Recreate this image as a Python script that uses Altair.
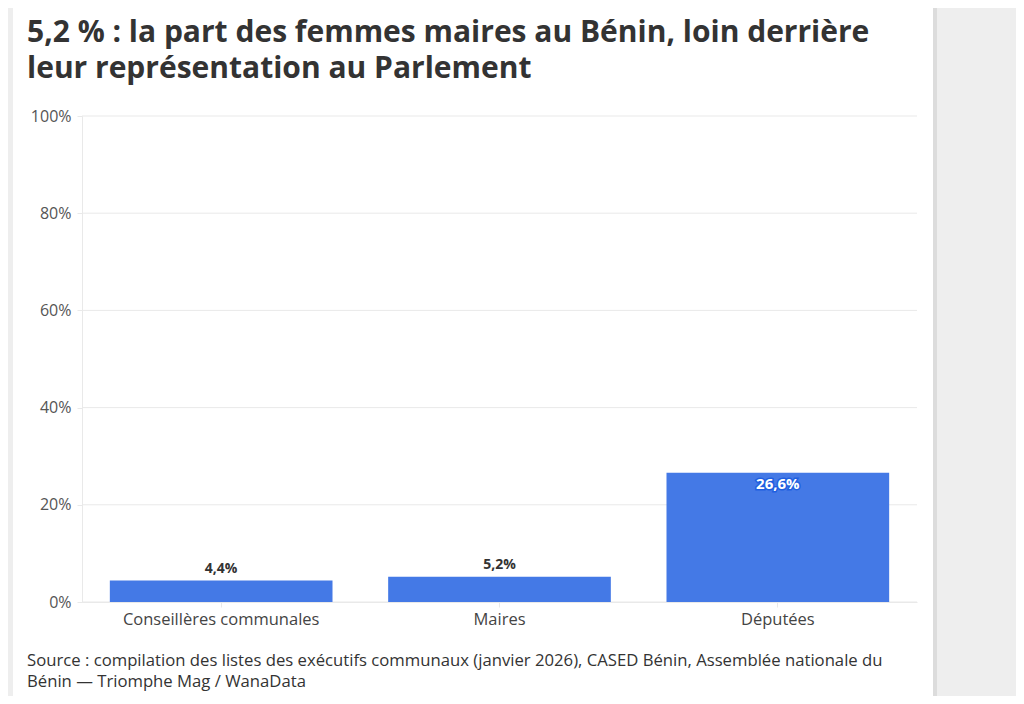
import altair as alt
import pandas as pd

categories = ["Conseillères communales", "Maires", "Députées"]
values = [4.4, 5.2, 26.6]
y_ticks = [0, 20, 40, 60, 80, 100]
title_lines = ["5,2 % : la part des femmes maires au Bénin, loin derrière",
               "leur représentation au Parlement"]
source_lines = ["Source : compilation des listes des exécutifs communaux (janvier 2026), CASED Bénin, Assemblée nationale du",
                "Bénin — Triomphe Mag / WanaData"]

FONT = "Open Sans"
BLUE = "#4479e6"
GRID = "#e9e9e9"

df = pd.DataFrame({"cat": categories, "value": values})
grid_df = pd.DataFrame({"value": y_ticks})
one = pd.DataFrame({"k": [0]})

yscale = alt.Scale(domain=[0, 100])
xscale = alt.Scale(domain=categories, paddingInner=0.2, paddingOuter=0.1)
yaxis = alt.Axis(title=None, values=y_ticks, labelExpr="datum.value + '%'",
                 labelFont=FONT, labelFontSize=16, labelColor="#555",
                 tickColor=GRID, tickSize=5, domainColor=GRID, grid=False,
                 labelPadding=6, zindex=1)

card = alt.Chart(one).mark_rect(color="white").encode(
    x=alt.value(-69), x2=alt.value(851), y=alt.value(-120), y2=alt.value(590)
)
shadow = alt.Chart(one).mark_rect(color="#dcdcdc").encode(
    x=alt.value(851), x2=alt.value(855), y=alt.value(-120), y2=alt.value(590)
)

grid = alt.Chart(grid_df).mark_rule(color=GRID, strokeWidth=1).encode(
    y=alt.Y("value:Q", scale=yscale, axis=yaxis)
)

bars = alt.Chart(df).mark_bar(color=BLUE).encode(
    x=alt.X("cat:N", scale=xscale, sort=categories,
            axis=alt.Axis(title=None, labelAngle=0, labelFont=FONT, labelFontSize=16.5,
                          labelColor="#444", tickColor=GRID, tickSize=5, labelLimit=0,
                          domainColor=GRID, labelPadding=4, zindex=1)),
    y=alt.Y("value:Q", scale=yscale, axis=yaxis),
)

lbl_base = alt.Chart(df).transform_calculate(
    lbl="replace(format(datum.value, '.1f'), '.', ',') + '%'"
).encode(
    x=alt.X("cat:N", scale=xscale, sort=categories),
    y=alt.Y("value:Q", scale=yscale, axis=yaxis),
    text="lbl:N",
)

lbl_above = lbl_base.transform_filter("datum.value < 15").mark_text(
    font=FONT, fontSize=14, fontWeight="bold", color="#333", baseline="bottom", dy=-5
)
lbl_in_halo = lbl_base.transform_filter("datum.value >= 15").mark_text(
    font=FONT, fontSize=15, fontWeight="bold", color="#1f5fe0", stroke="#1f5fe0",
    strokeWidth=3, baseline="top", dy=4
)
lbl_in = lbl_base.transform_filter("datum.value >= 15").mark_text(
    font=FONT, fontSize=15, fontWeight="bold", color="white", baseline="top", dy=4
)

title_style = dict(font=FONT, fontSize=30, fontWeight="bold", color="#333",
                   align="left", baseline="alphabetic")
title1 = alt.Chart(one).mark_text(**title_style).encode(
    x=alt.value(-55), y=alt.value(-74), text=alt.value(title_lines[0]))
title2 = alt.Chart(one).mark_text(**title_style).encode(
    x=alt.value(-55), y=alt.value(-38), text=alt.value(title_lines[1]))

source = alt.Chart(one).mark_text(
    font=FONT, fontSize=16.7, color="#333", align="left", baseline="alphabetic",
    lineHeight=21
).encode(x=alt.value(-55), y=alt.value(550), text=alt.value(source_lines))

chart = alt.layer(card, shadow, grid, bars, lbl_above, lbl_in_halo, lbl_in,
                  title1, title2, source).properties(
    width=835, height=486,
    background="#eeeeee",
    padding={"left": 74, "top": 108, "right": 99, "bottom": 94},
    autosize=alt.AutoSizeParams(type="none"),
).configure_view(stroke=None)

chart.save("out.html", embed_options={"renderer": "svg", "actions": False})
